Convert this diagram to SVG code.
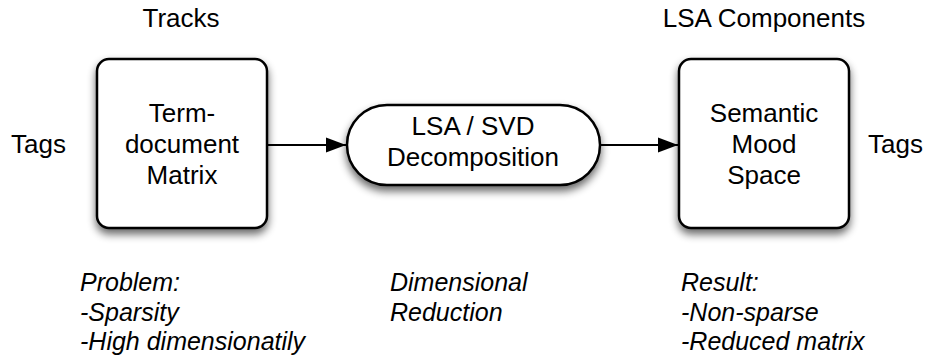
<svg xmlns="http://www.w3.org/2000/svg" width="933" height="363" viewBox="0 0 933 363">
<defs>
<filter id="sh" x="-20%" y="-20%" width="150%" height="150%">
<feGaussianBlur in="SourceAlpha" stdDeviation="4"/>
<feOffset dx="0" dy="5" result="b"/>
<feComponentTransfer><feFuncA type="linear" slope="0.6"/></feComponentTransfer>
<feMerge><feMergeNode/><feMergeNode in="SourceGraphic"/></feMerge>
</filter>
<marker id="ah" markerWidth="20" markerHeight="16" refX="20" refY="8" orient="auto" markerUnits="userSpaceOnUse">
<path d="M0,0.5 L20,8 L0,15.5 Z" fill="#000"/>
</marker>
</defs>
<style>
.n{fill:#fff;stroke:#000;stroke-width:2.5}
.t{font-family:"Liberation Sans",Arial,Helvetica,sans-serif;font-size:26px;fill:#000}
.c{text-anchor:middle}
.i{font-style:italic;font-size:25px}
.e{stroke:#000;stroke-width:2;fill:none}
</style>
<rect width="933" height="363" fill="#fff"/>
<g id="edges">
<line class="e" x1="268" y1="145" x2="346" y2="145" marker-end="url(#ah)"/>
<line class="e" x1="601" y1="145" x2="678" y2="145" marker-end="url(#ah)"/>
</g>
<g id="term-doc">
<rect class="n" x="97" y="59" width="170" height="169" rx="12" filter="url(#sh)"/>
<text class="t c" x="182" y="122">Term-</text>
<text class="t c" x="182" y="153">document</text>
<text class="t c" x="182" y="184">Matrix</text>
</g>
<g id="lsa">
<rect class="n" x="347" y="105" width="253" height="80" rx="40" filter="url(#sh)"/>
<text class="t c" x="473" y="135">LSA / SVD</text>
<text class="t c" x="473" y="166">Decomposition</text>
</g>
<g id="semantic">
<rect class="n" x="679" y="59" width="170" height="169" rx="12" filter="url(#sh)"/>
<text class="t c" x="764" y="122">Semantic</text>
<text class="t c" x="764" y="153">Mood</text>
<text class="t c" x="764" y="184">Space</text>
</g>
<g id="labels">
<text class="t c" x="181" y="27">Tracks</text>
<text class="t c" x="764" y="27">LSA Components</text>
<text class="t" x="11" y="153">Tags</text>
<text class="t" x="868" y="153">Tags</text>
<text class="t i" x="80" y="291">Problem:</text>
<text class="t i" x="80" y="321">-Sparsity</text>
<text class="t i" x="80" y="350">-High dimensionatily</text>
<text class="t i" x="390" y="291">Dimensional</text>
<text class="t i" x="390" y="321">Reduction</text>
<text class="t i" x="681" y="291">Result:</text>
<text class="t i" x="681" y="321">-Non-sparse</text>
<text class="t i" x="681" y="350">-Reduced matrix</text>
</g>
</svg>
